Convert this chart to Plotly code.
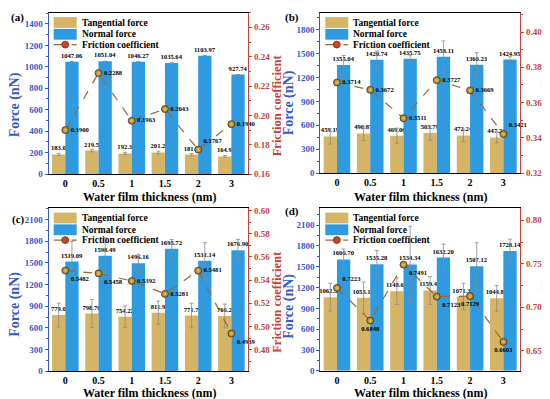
import plotly.graph_objects as go

W, H = 550, 399
FONT = "Liberation Serif"

categories = ["0", "0.5", "1", "1.5", "2", "3"]

# ---- panel (a) ----
a_tangential_labels = ["183.0", "219.5", "192.3", "201.2", "181.5", "164.9"]
a_normal_labels = ["1047.06", "1051.04", "1046.27", "1035.64", "1103.97", "927.74"]
a_friction_labels = ["0.1900", "0.2288", "0.1963", "0.2043", "0.1767", "0.1940"]
a_tangential_err = [10, 12, 10, 12, 10, 9]
a_normal_err = [0, 0, 0, 0, 0, 0]
a_left_ticks = [0, 200, 400, 600, 800, 1000, 1200, 1400]
a_right_ticks = [0.16, 0.18, 0.20, 0.22, 0.24, 0.26]

# ---- panel (b) ----
b_tangential_labels = ["459.19", "496.87", "469.06", "503.79", "472.24", "447.22"]
b_normal_labels = ["1355.04", "1420.74", "1435.75", "1458.11", "1360.23", "1424.95"]
b_friction_labels = ["0.3714", "0.3672", "0.3511", "0.3727", "0.3669", "0.3421"]
b_tangential_err = [95, 90, 95, 90, 80, 70]
b_normal_err = [120, 110, 45, 200, 150, 35]
b_left_ticks = [0, 300, 600, 900, 1200, 1500, 1800]
b_right_ticks = [0.32, 0.34, 0.36, 0.38, 0.40]

# ---- panel (c) ----
c_tangential_labels = ["779.0", "798.76", "754.22", "811.9", "771.7", "766.2"]
c_normal_labels = ["1519.09", "1598.49", "1496.16", "1695.72", "1531.14", "1676.90"]
c_friction_labels = ["0.5482", "0.5458", "0.5392", "0.5281", "0.5481", "0.4939"]
c_tangential_err = [165, 195, 150, 160, 170, 165]
c_normal_err = [280, 250, 125, 130, 250, 150]
c_left_ticks = [0, 300, 600, 900, 1200, 1500, 1800, 2100]
c_right_ticks = [0.48, 0.50, 0.52, 0.54, 0.56, 0.58, 0.60]

# ---- panel (d) ----
d_tangential_labels = ["1062.53", "1055.14", "1148.62", "1159.42", "1071.35", "1044.83"]
d_normal_labels = ["1606.70", "1535.28", "1534.34", "1632.20", "1507.12", "1728.14"]
d_friction_labels = ["0.7223", "0.6848", "0.7491", "0.7123", "0.7129", "0.6603"]
d_tangential_err = [200, 225, 190, 200, 190, 185]
d_normal_err = [150, 200, 550, 195, 340, 170]
d_left_ticks = [0, 300, 600, 900, 1200, 1500, 1800, 2100]
d_right_ticks = [0.65, 0.70, 0.75, 0.80]

series_names = ["Tangential force", "Normal force", "Friction coefficient"]
x_title = "Water film thickness (nm)"
left_title = "Force (nN)"
right_title = "Friction coefficient"

GOLD = "#D6B466"
BLUE = "#2E9AE0"
LEFT_C = "#3559C7"
RIGHT_C = "#C8403A"
LINE_C = "#A0643C"
ERR_C = "#8a8a8a"


def xp(px):
    return px / W


def yp(py):
    return 1 - py / H


panels = [
    dict(letter="(a)", letter_pos=(9, 8), box=(40.7, 240.0, 2.7, 167.0),
         tl=a_tangential_labels, nl=a_normal_labels, fl=a_friction_labels,
         te=a_tangential_err, ne=a_normal_err, lt=a_left_ticks, rt=a_right_ticks,
         lrange=[0, 1505], rrange=[0.16, 0.27], lminor=100, rminor=0.01,
         fpos=["middle right", "middle right", "middle right", "middle right", "top right", "middle right"],
         ltitle=(7, 97), rtitle=(269, 97), xtitle=(141, 190)),
    dict(letter="(b)", letter_pos=(284, 8), box=(312.3, 512.0, 2.7, 166.0),
         tl=b_tangential_labels, nl=b_normal_labels, fl=b_friction_labels,
         te=b_tangential_err, ne=b_normal_err, lt=b_left_ticks, rt=b_right_ticks,
         lrange=[0, 2013], rrange=[0.32, 0.411], lminor=150, rminor=0.01,
         fpos=["middle right", "middle right", "middle right", "middle right", "middle right", "top right"],
         ltitle=(281, 95), rtitle=(539, 95), xtitle=(412, 190)),
    dict(letter="(c)", letter_pos=(10, 213), box=(40.7, 240.0, 201.7, 367.7),
         tl=c_tangential_labels, nl=c_normal_labels, fl=c_friction_labels,
         te=c_tangential_err, ne=c_normal_err, lt=c_left_ticks, rt=c_right_ticks,
         lrange=[0, 2259], rrange=[0.4614, 0.602], lminor=150, rminor=0.01,
         fpos=["bottom right", "bottom right", "middle right", "middle right", "middle right", "bottom right"],
         ltitle=(7, 300), rtitle=(269, 297), xtitle=(141, 390)),
    dict(letter="(d)", letter_pos=(284, 205), box=(312.3, 512.0, 201.7, 367.3),
         tl=d_tangential_labels, nl=d_normal_labels, fl=d_friction_labels,
         te=d_tangential_err, ne=d_normal_err, lt=d_left_ticks, rt=d_right_ticks,
         lrange=[0, 2345], rrange=[0.627, 0.814], lminor=150, rminor=0.025,
         fpos=["top right", "bottom center", "bottom right", "bottom right", "bottom center", "bottom center"],
         ltitle=(281, 302), rtitle=(539, 300), xtitle=(412, 390)),
]

fig = go.Figure()
layout = {}
annotations = []
shapes = []

label_font = dict(family=FONT, size=6.6, color="black", weight="bold")

for i, p in enumerate(panels):
    xname = "x" if i == 0 else f"x{i + 1}"
    yl = "y" if i == 0 else f"y{2 * i + 1}"
    yr = f"y{2 * i + 2}"
    x0, x1, top, bot = p["box"]

    tang = [float(s) for s in p["tl"]]
    norm = [float(s) for s in p["nl"]]
    fric = [float(s) for s in p["fl"]]

    fig.add_trace(go.Bar(
        x=categories, y=tang, name=series_names[0], text=p["tl"], textposition="outside",
        textfont=label_font, constraintext="none", cliponaxis=False,
        marker=dict(color=GOLD, line=dict(width=0)),
        error_y=dict(type="data", array=p["te"], color=ERR_C, thickness=0.8, width=2),
        xaxis=xname, yaxis=yl, showlegend=False))
    fig.add_trace(go.Bar(
        x=categories, y=norm, name=series_names[1], text=p["nl"], textposition="outside",
        textfont=label_font, constraintext="none", cliponaxis=False,
        marker=dict(color=BLUE, line=dict(width=0)),
        error_y=dict(type="data", array=p["ne"], color=ERR_C, thickness=0.8, width=2),
        xaxis=xname, yaxis=yl, showlegend=False))
    fig.add_trace(go.Scatter(
        x=categories, y=fric, name=series_names[2], mode="lines+markers+text",
        text=p["fl"], textposition=p["fpos"], textfont=label_font, cliponaxis=False,
        line=dict(color=LINE_C, dash="dash", width=1.2),
        marker=dict(size=7, color="#9A6A28", line=dict(color="#5A3510", width=0.8),
                    gradient=dict(type="radial", color="#D8D468")),
        xaxis=xname, yaxis=yr, showlegend=False))

    xkey = "xaxis" if i == 0 else f"xaxis{i + 1}"
    ylkey = "yaxis" if i == 0 else f"yaxis{2 * i + 1}"
    yrkey = f"yaxis{2 * i + 2}"
    layout[xkey] = dict(
        domain=[xp(x0), xp(x1)], anchor=yl, type="category", range=[-0.5, 5.5],
        showline=True, mirror=True, linecolor="black", linewidth=1,
        ticks="", showgrid=False, zeroline=False,
        tickfont=dict(family=FONT, size=10, color="black", weight="bold"))
    layout[ylkey] = dict(
        domain=[yp(bot), yp(top)], anchor=xname, range=p["lrange"],
        tickmode="array", tickvals=p["lt"], ticktext=[str(v) for v in p["lt"]],
        showline=True, linecolor=LEFT_C, linewidth=1.2,
        ticks="outside", ticklen=3, tickcolor=LEFT_C, showgrid=False, zeroline=False,
        minor=dict(dtick=p["lminor"], tick0=0, ticks="outside", ticklen=2, tickcolor=LEFT_C),
        tickfont=dict(family=FONT, size=9, color=LEFT_C, weight="bold"))
    layout[yrkey] = dict(
        overlaying=yl, side="right", anchor=xname, range=p["rrange"],
        tickmode="array", tickvals=p["rt"], ticktext=[f"{v:.2f}" for v in p["rt"]],
        showline=True, linecolor=RIGHT_C, linewidth=1.2,
        ticks="outside", ticklen=3, tickcolor=RIGHT_C, showgrid=False, zeroline=False,
        minor=dict(dtick=p["rminor"], tick0=p["rt"][0], ticks="outside", ticklen=2, tickcolor=RIGHT_C),
        tickfont=dict(family=FONT, size=9, color=RIGHT_C, weight="bold"))

    # axis titles
    annotations.append(dict(
        x=xp(p["ltitle"][0]), y=yp(p["ltitle"][1]), xref="paper", yref="paper",
        text=left_title, textangle=-90, showarrow=False, xanchor="center", yanchor="middle",
        borderpad=0, font=dict(family=FONT, size=14, color=LEFT_C, weight="bold")))
    annotations.append(dict(
        x=xp(p["rtitle"][0]), y=yp(p["rtitle"][1]), xref="paper", yref="paper",
        text=right_title, textangle=-90, showarrow=False, xanchor="center", yanchor="middle",
        borderpad=0, font=dict(family=FONT, size=12.5, color=RIGHT_C, weight="bold")))
    annotations.append(dict(
        x=xp(p["xtitle"][0]), y=yp(p["xtitle"][1]), xref="paper", yref="paper",
        text=x_title, showarrow=False, xanchor="center", yanchor="middle",
        font=dict(family=FONT, size=12, color="black", weight="bold")))
    annotations.append(dict(
        x=xp(p["letter_pos"][0]), y=yp(p["letter_pos"][1]), xref="paper", yref="paper",
        text=p["letter"], showarrow=False, xanchor="center", yanchor="middle",
        font=dict(family=FONT, size=11, color="black", weight="bold")))

    # legend (drawn in the plot's top-left corner)
    lx0, lx1 = x0 + 5, x0 + 28
    shapes.append(dict(type="rect", xref="paper", yref="paper", x0=xp(lx0), x1=xp(lx1),
                       y0=yp(top + 15.5), y1=yp(top + 4.5), fillcolor=GOLD, line=dict(width=0)))
    shapes.append(dict(type="rect", xref="paper", yref="paper", x0=xp(lx0), x1=xp(lx1),
                       y0=yp(top + 27.5), y1=yp(top + 16.5), fillcolor=BLUE, line=dict(width=0)))
    shapes.append(dict(type="line", xref="paper", yref="paper", x0=xp(lx0), x1=xp(lx1),
                       y0=yp(top + 32.5), y1=yp(top + 32.5), line=dict(color=LINE_C, dash="dash", width=1.2)))
    cx, cy, r = (lx0 + lx1) / 2, top + 32.5, 3.5
    shapes.append(dict(type="circle", xref="paper", yref="paper", x0=xp(cx - r), x1=xp(cx + r),
                       y0=yp(cy + r), y1=yp(cy - r), fillcolor="#C8442A",
                       line=dict(color="#5A3510", width=0.8)))
    for k, name in enumerate(series_names):
        annotations.append(dict(
            x=xp(x0 + 31), y=yp(top + [10.3, 22.0, 32.5][k]), xref="paper", yref="paper",
            text=name, showarrow=False, xanchor="left", yanchor="middle",
            font=dict(family=FONT, size=9.5, color="black", weight="bold")))

fig.update_layout(
    width=W, height=H, autosize=False,
    margin=dict(l=0, r=0, t=0, b=0),
    paper_bgcolor="white", plot_bgcolor="white",
    barmode="group", bargap=0.2, bargroupgap=0,
    showlegend=False,
    annotations=annotations, shapes=shapes,
    **layout)

fig.write_html("out.html")
